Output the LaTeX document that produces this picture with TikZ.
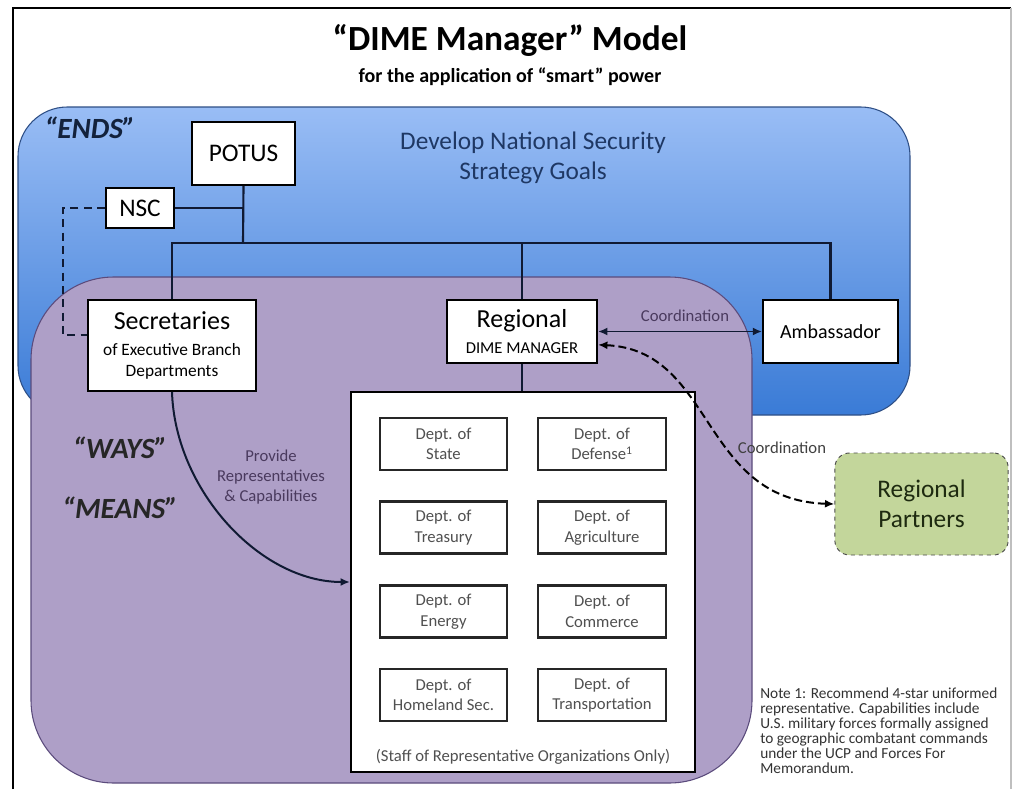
\documentclass[tikz,border=0pt]{standalone}
\usepackage{fontspec}
\setmainfont{Carlito}
\usetikzlibrary{arrows.meta}
\definecolor{bluetop}{HTML}{99BDF5}
\definecolor{bluebot}{HTML}{3A7BD6}
\definecolor{blueedge}{HTML}{2E4F86}
\definecolor{purplefill}{HTML}{AE9FC7}
\definecolor{purpleedge}{HTML}{5B4B7C}
\definecolor{navy}{HTML}{1F3864}
\definecolor{linecol}{HTML}{101A33}
\definecolor{labcol}{HTML}{4A3A5E}
\definecolor{greenfill}{HTML}{C3D69B}
\definecolor{greentext}{HTML}{1E2A10}
\definecolor{deptcol}{HTML}{505050}
\tikzset{
  box/.style={draw=black, fill=white, line width=1.6pt, inner sep=0pt, align=center},
  deptbox/.style={draw=black!85, fill=white, line width=1.6pt, inner sep=0pt, align=center,
    minimum height=39pt, font=\fontsize{12.5}{15.5}\selectfont, text=deptcol},
  org/.style={draw=linecol, line width=1.6pt},
  lab/.style={inner sep=0pt, align=center},
}
\begin{document}
\begin{tikzpicture}[x=0.75pt,y=-0.75pt]
\useasboundingbox (0,0) rectangle (1017,789);
\fill[white] (0,0) rectangle (1017,789);
% frame
\draw[black, line width=1.6pt] (13,789) -- (13,8) -- (1011,8);
\draw[black!25, line width=0.8pt] (1011,8) -- (1011,789);
% title
\node[lab, font=\fontsize{26.5}{30}\selectfont\bfseries] (title) at (510,40) {“DIME Manager” Model};
\node[lab, font=\fontsize{15}{18}\selectfont\bfseries] (subtitle) at (510,77) {for the application of “smart” power};
% blue box
\path[draw=blueedge, line width=0.8pt, top color=bluetop, bottom color=bluebot, rounded corners=37pt]
  (18,107) rectangle (910,415);
% purple box
\path[draw=purpleedge, line width=0.8pt, fill=purplefill, rounded corners=62pt]
  (31,277) rectangle (752,783);
% texts in regions
\node[lab, font=\fontsize{22}{24}\selectfont\bfseries\itshape, text=navy!60!black] (ends) at (90,128) {“ENDS”};
\node[lab, font=\fontsize{19}{23}\selectfont, text=navy] (goal) at (533,158) {Develop National Security\\Strategy Goals};
\node[lab, font=\fontsize{22}{24}\selectfont\bfseries\itshape, text=black!85] (ways) at (120,448) {“WAYS”};
\node[lab, font=\fontsize{22}{24}\selectfont\bfseries\itshape, text=black!85] (means) at (120,508) {“MEANS”};
% nodes
\node[box, minimum width=77pt, minimum height=47pt, font=\fontsize{19}{22}\selectfont] (potus) at (243.5,153.5) {POTUS};
\node[box, minimum width=51pt, minimum height=30pt, font=\fontsize{19}{22}\selectfont] (nsc) at (140,208) {NSC};
\node[box, minimum width=126pt, minimum height=68pt, font=\fontsize{13}{16}\selectfont] (sec) at (172,345.5)
  {{\fontsize{19.5}{21}\selectfont Secretaries}\\[3pt]of Executive Branch\\Departments};
\node[box, minimum width=112.5pt, minimum height=47pt, font=\fontsize{12.5}{14}\selectfont] (reg) at (522,331.5)
  {{\fontsize{19.5}{21}\selectfont Regional}\\[6pt]DIME MANAGER};
\node[box, minimum width=101pt, minimum height=47pt, font=\fontsize{15}{17}\selectfont] (amb) at (830.5,331.5) {Ambassador};
\node[box, minimum width=258pt, minimum height=285pt] (staff) at (523,582) {};
\node[lab, font=\fontsize{12.5}{14}\selectfont, text=deptcol] (stafflab) at (523,757) {(Staff of Representative Organizations Only)};
\node[deptbox, minimum width=95pt] (state) at (443.5,444) {Dept. of\\State};
\node[deptbox, minimum width=96pt] (defense) at (602,444) {Dept. of\\Defense\textsuperscript{1}};
\node[deptbox, minimum width=95pt] (treasury) at (443.5,527.5) {Dept. of\\Treasury};
\node[deptbox, minimum width=96pt] (agri) at (602,527.5) {Dept. of\\Agriculture};
\node[deptbox, minimum width=95pt] (energy) at (443.5,611.5) {Dept. of\\Energy};
\node[deptbox, minimum width=96pt] (commerce) at (602,611.5) {Dept. of\\Commerce};
\node[deptbox, minimum width=95pt] (homeland) at (443.5,695) {Dept. of\\Homeland Sec.};
\node[deptbox, minimum width=96pt] (transport) at (602,695) {Dept. of\\Transportation};
\node[draw=black!70, dashed, line width=0.7pt, fill=greenfill, rounded corners=11pt,
  minimum width=130pt, minimum height=76.5pt, align=center, text=greentext,
  font=\fontsize{19}{22.5}\selectfont] (rp) at (921.5,504) {Regional\\Partners};
% connectors
\coordinate (j1) at (243,208);
\coordinate (j2) at (243,243);
\coordinate (d1) at (63,335);
\draw[org] (potus.south) -- (j2);
\draw[org] (nsc.east) -- (j1);
\draw[org] (sec.north) |- (j2) -| (amb.north);
\draw[org] (reg.north) -- (reg.north |- j2);
\draw[org] (reg.south) -- (reg.south |- staff.north);
\draw[linecol, line width=1.5pt, dash pattern=on 6pt off 4pt] (nsc.west) -| (d1) -- (d1 -| sec.west);
\draw[linecol, line width=1.4pt, {Latex[length=7pt,width=6pt]}-{Latex[length=7pt,width=6pt]}] (reg.east) -- (amb.west);
\node[lab, font=\fontsize{12.5}{14}\selectfont, text=labcol] (coord1) at (685,316) {Coordination};
\draw[linecol, line width=1.5pt, -{Latex[length=7pt,width=6pt]}] (sec.south) .. controls (175,490) and (260,582) .. (staff.west);
\node[lab, font=\fontsize{12.5}{15}\selectfont, text=labcol] (prov) at (271,477) {Provide\\Representatives\\\& Capabilities};
\draw[black, line width=1.5pt, dash pattern=on 6pt off 3pt, {Latex[length=7pt,width=6pt]}-{Latex[length=7pt,width=6pt]}]
  ([yshift=-10pt]reg.east) .. controls (715,350) and (700,500) .. (rp.west);
\node[lab, font=\fontsize{12.5}{14}\selectfont, text=black!75] (coord2) at (782,448) {Coordination};
\node[lab, anchor=north west, align=left, font=\fontsize{11.5}{11.25}\selectfont, text=black!80] (note) at (760,688)
  {Note 1: Recommend 4-star uniformed\\representative. Capabilities include\\U.S. military forces formally assigned\\to geographic combatant commands\\under the UCP and Forces For\\Memorandum.};
\end{tikzpicture}
\end{document}
